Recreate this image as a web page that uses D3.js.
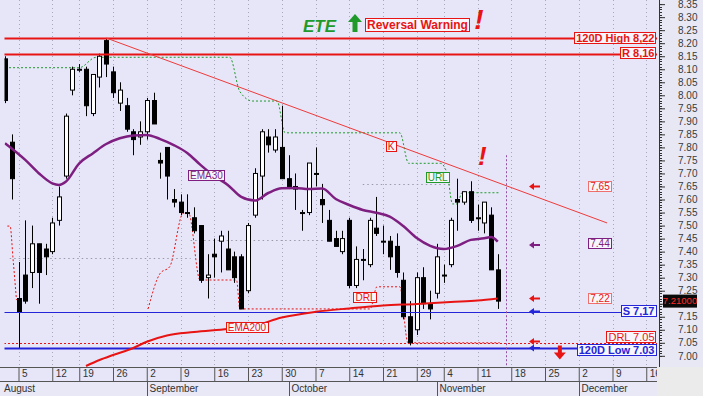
<!DOCTYPE html>
<html>
<head>
<meta charset="utf-8">
<script src="https://cdn.jsdelivr.net/npm/d3@7"></script>
<style>
  body { margin: 0; background: #fff; }
  svg { display: block; font-family: "Liberation Sans", Arial, sans-serif; }
</style>
</head>
<body>
<div id="chart"></div>
<script>
// ETE daily candles (Aug - Nov 2019) with EMA, support/resistance overlays

// Data
const holidays = ["2019-08-15", "2019-10-28"];

const open  = [8.14,7.82,7.22,7.31,7.32,7.43,7.41,7.40,7.52,7.69,8.02,8.10,8.10,7.93,8.07,8.21,8.09,7.97,7.96,7.86,
               7.84,7.86,7.98,7.75,7.80,7.60,7.59,7.55,7.53,7.50,7.30,7.39,7.44,7.41,7.38,7.38,7.25,7.54,7.69,7.84,
               7.79,7.80,7.68,7.65,7.55,7.55,7.70,7.60,7.52,7.45,7.40,7.52,7.27,7.37,7.35,7.49,7.44,7.44,7.42,7.29,
               7.15,7.10,7.30,7.20,7.24,7.31,7.35,7.60,7.59,7.63,7.53,7.51,7.54,7.33];
const high  = [8.15,7.85,7.36,7.52,7.50,7.43,7.43,7.53,7.65,7.93,8.11,8.12,8.11,8.08,8.16,8.22,8.11,8.05,7.99,7.87,
               7.90,7.99,8.01,7.78,7.80,7.64,7.62,7.62,7.57,7.50,7.39,7.45,7.48,7.48,7.40,7.39,7.51,7.72,7.87,7.87,
               7.87,7.96,7.77,7.70,7.56,7.74,7.80,7.66,7.56,7.48,7.48,7.53,7.42,7.41,7.53,7.61,7.50,7.46,7.47,7.32,
               7.21,7.32,7.34,7.25,7.43,7.35,7.53,7.68,7.63,7.67,7.58,7.59,7.57,7.39];
const low   = [7.97,7.60,7.03,7.20,7.26,7.20,7.31,7.39,7.50,7.68,8.00,8.09,7.92,7.92,8.03,8.07,7.99,7.94,7.86,7.77,
               7.81,7.83,7.89,7.68,7.60,7.57,7.54,7.53,7.47,7.28,7.22,7.30,7.32,7.33,7.28,7.18,7.24,7.53,7.60,7.78,
               7.78,7.68,7.64,7.56,7.48,7.54,7.65,7.51,7.44,7.42,7.39,7.26,7.26,7.29,7.34,7.46,7.39,7.33,7.30,7.14,
               7.04,7.08,7.18,7.14,7.22,7.28,7.34,7.48,7.58,7.51,7.48,7.47,7.33,7.18];
const close = [7.98,7.68,7.17,7.21,7.43,7.32,7.38,7.51,7.61,7.92,8.10,8.10,7.96,8.08,8.15,8.12,8.01,8.02,7.87,7.83,
               7.86,7.98,7.89,7.74,7.69,7.59,7.55,7.55,7.48,7.29,7.31,7.38,7.46,7.33,7.30,7.18,7.50,7.70,7.86,7.81,
               7.84,7.68,7.65,7.64,7.55,7.74,7.70,7.58,7.44,7.42,7.45,7.27,7.37,7.37,7.52,7.47,7.44,7.38,7.32,7.15,
               7.05,7.30,7.20,7.18,7.38,7.31,7.52,7.59,7.63,7.52,7.53,7.59,7.33,7.21];

// Overlays: [trading-day index, price]
const ema30 = [[0,7.816],[3,7.752],[5,7.701],[7,7.662],[8,7.656],[9,7.668],[11,7.739],[13,7.777],[15,7.813],
               [17,7.835],[19,7.846],[21,7.848],[23,7.832],[25,7.809],[27,7.779],[29,7.732],[31,7.69],[33,7.656],
               [35,7.61],[37,7.596],[39,7.625],[41,7.643],[43,7.644],[45,7.64],[47,7.642],[49,7.602],[51,7.579],
               [53,7.56],[55,7.549],[57,7.534],[59,7.498],[61,7.452],[63,7.422],[65,7.41],[67,7.422],[69,7.445],
               [71,7.451],[72,7.456],[73,7.438]];
const ema200 = [[12,6.961],[14,6.984],[16,7.003],[19,7.03],[21,7.054],[24,7.078],[28,7.091],[33,7.103],
                [37,7.116],[41,7.147],[46,7.169],[51,7.182],[56,7.193],[61,7.199],[66,7.207],[70,7.212],[73,7.22]];
const urlLine = [[0,8.106],[11,8.106],[13.5,8.146],[33.3,8.146],[34.8,8.014],[36.7,7.978],[40.3,7.978],
                 [41.5,7.856],[58.5,7.856],[59.8,7.739],[64.5,7.739],[65.5,7.70],[66.3,7.583],[67,7.583],
                 [67.7,7.626],[73.3,7.626]];
const drlLineA = [[0.35,7.498],[0.75,7.498],[1.2,7.37],[1.7,7.214]];
const drlLineB = [[21.2,7.18],[23,7.317],[24.4,7.342],[26.4,7.547],[27.2,7.547],[28.9,7.291],[34.3,7.291],
                  [34.8,7.18],[54.1,7.18],[55.1,7.265],[58.5,7.265],[59.7,7.05],[73.3,7.05]];
const greyLevels = [[0.7,27.5,7.374],[27.5,47.5,7.445],[53,66,7.658]];
const trend = [[15,8.22],[89.2,7.51]];

const levelValues = [8.22, 8.16, 7.17, 7.03, 7.05];
const levelLabels = ["120D High 8,22", "R 8,16", "S 7,17", "120D Low 7.03", "DRL 7.05"];
const markerValues = [7.65, 7.43, 7.22];
const markerLabels = ["7,65", "7.44", "7,22"];
const lastPrice = 7.21;

// Trading days (weekends and Greek market holidays skipped)
const fmtDay = d3.utcFormat("%Y-%m-%d");
const days = d3.utcDay.range(new Date(Date.UTC(2019, 7, 1)), new Date(Date.UTC(2019, 11, 19)))
  .filter(d => d.getUTCDay() % 6 !== 0 && !holidays.includes(fmtDay(d)));

// Colors
const bg = "#e6e6f8";
const red = "#e81414";
const blue = "#2424d8";
const purple = "#7e1e80";
const green = "#1f9a2a";

// Dimensions
const width = 717, height = 398,
      plotR = 657, plotB = 367, axisX = 659, panelR = 703;

const x = d3.scaleLinear()
    .domain([0, days.length - 1])
    .range([5, 5 + (days.length - 1) * 6.75]);

const y = d3.scaleLinear()
    .domain([7.03, 8.22])
    .range([348, 38]);

const svg = d3.select("#chart")
  .append("svg")
    .attr("width", width)
    .attr("height", height)
    .attr("viewBox", [0, 0, width, height]);

// Backgrounds
svg.append("rect").attr("width", width).attr("height", height).attr("fill", "#fff");
svg.append("rect").attr("x", 0).attr("y", 0).attr("width", plotR).attr("height", plotB).attr("fill", bg);
svg.append("rect").attr("x", plotR).attr("y", 0).attr("width", panelR - plotR).attr("height", plotB).attr("fill", "#e8e8f4");
svg.append("rect").attr("x", 0).attr("y", plotB).attr("width", plotR).attr("height", 14).attr("fill", bg);
svg.append("rect").attr("x", 0).attr("y", plotB + 14).attr("width", plotR).attr("height", 15).attr("fill", "#e8e8f6");
svg.append("rect").attr("x", plotR).attr("y", plotB).attr("width", panelR - plotR).attr("height", 29).attr("fill", "#ebebeb");

const defs = svg.append("defs");
defs.append("clipPath").attr("id", "plot")
  .append("rect").attr("x", 4.5).attr("y", 0).attr("width", plotR - 4.5).attr("height", plotB);
defs.append("clipPath").attr("id", "xaxis")
  .append("rect").attr("x", 0).attr("y", plotB).attr("width", plotR).attr("height", 30);

const plot = svg.append("g").attr("clip-path", "url(#plot)");

// Week and month positions
const weekIdx = d3.range(1, days.length)
  .filter(i => +d3.utcMonday.floor(days[i]) !== +d3.utcMonday.floor(days[i - 1]));
const monthIdx = d3.range(1, days.length)
  .filter(i => days[i].getUTCMonth() !== days[i - 1].getUTCMonth());

// Vertical dotted grid
plot.append("g")
    .attr("stroke", "#a8a8bc")
    .attr("stroke-dasharray", "1,3")
  .selectAll("line")
  .data(weekIdx)
  .join("line")
    .attr("x1", d => Math.round(x(d)) + 0.5)
    .attr("x2", d => Math.round(x(d)) + 0.5)
    .attr("y1", 0)
    .attr("y2", plotB);

// Grey dotted levels
plot.append("g")
    .attr("stroke", "#9a9aa8")
    .attr("stroke-dasharray", "1.5,3")
  .selectAll("line")
  .data(greyLevels)
  .join("line")
    .attr("x1", d => x(d[0]))
    .attr("x2", d => x(d[1]))
    .attr("y1", d => Math.round(y(d[2])) + 0.5)
    .attr("y2", d => Math.round(y(d[2])) + 0.5);

const line = d3.line()
    .x(d => x(d[0]))
    .y(d => y(d[1]))
    .curve(d3.curveMonotoneX);

// Step lines (URL resistance, DRL support)
plot.append("path").attr("d", line(urlLine))
    .attr("fill", "none").attr("stroke", green).attr("stroke-width", 1).attr("stroke-dasharray", "2,2");
[drlLineA, drlLineB].forEach(dl => plot.append("path").attr("d", line(dl))
    .attr("fill", "none").attr("stroke", red).attr("stroke-width", 1).attr("stroke-dasharray", "2,2"));

// Candles
const candles = d3.range(open.length);
plot.append("g")
    .attr("stroke", "#000")
  .selectAll("line")
  .data(candles)
  .join("line")
    .attr("x1", i => Math.round(x(i)) + 0.5)
    .attr("x2", i => Math.round(x(i)) + 0.5)
    .attr("y1", i => y(high[i]))
    .attr("y2", i => y(low[i]));

plot.append("g")
    .attr("stroke", "#000")
  .selectAll("rect")
  .data(candles)
  .join("rect")
    .attr("x", i => Math.round(x(i)) - 1.5)
    .attr("width", 4)
    .attr("y", i => y(Math.max(open[i], close[i])))
    .attr("height", i => Math.max(1, Math.abs(y(open[i]) - y(close[i]))))
    .attr("fill", i => close[i] >= open[i] ? "#fff" : "#000");

// Horizontal levels
const levelStyle = [
  {color: red, w: 2, dash: null},
  {color: red, w: 2, dash: null},
  {color: blue, w: 1, dash: null},
  {color: blue, w: 2, dash: null},
  {color: red, w: 1, dash: "2,2"}
];
plot.append("g")
  .selectAll("line")
  .data(levelValues)
  .join("line")
    .attr("x1", 0)
    .attr("x2", plotR)
    .attr("y1", d => Math.round(y(d)) + 0.5)
    .attr("y2", d => Math.round(y(d)) + 0.5)
    .attr("stroke", (d, i) => levelStyle[i].color)
    .attr("stroke-width", (d, i) => levelStyle[i].w)
    .attr("stroke-dasharray", (d, i) => levelStyle[i].dash);

// Trend line
plot.append("line")
    .attr("x1", x(trend[0][0])).attr("y1", y(trend[0][1]))
    .attr("x2", x(trend[1][0])).attr("y2", y(trend[1][1]))
    .attr("stroke", "#ee3a3a").attr("stroke-width", 1);

// Moving averages
plot.append("path").attr("d", line(ema200))
    .attr("fill", "none").attr("stroke", red).attr("stroke-width", 2);
plot.append("path").attr("d", line(ema30))
    .attr("fill", "none").attr("stroke", purple).attr("stroke-width", 2.5);

// Purple dotted marker after last bar
plot.append("line")
    .attr("x1", Math.round(x(74.2)) + 0.5).attr("x2", Math.round(x(74.2)) + 0.5)
    .attr("y1", y(7.77)).attr("y2", plotB)
    .attr("stroke", "#9050a0").attr("stroke-dasharray", "2,2");

// Boxed label helper
function boxLabel(g, text, px, py, color, opt = {}) {
  const t = g.append("text")
      .attr("x", px).attr("y", py).attr("dy", "0.35em")
      .attr("text-anchor", opt.anchor || "middle")
      .attr("font-size", opt.size || 10)
      .attr("font-weight", opt.bold ? "bold" : "normal")
      .attr("font-style", opt.italic ? "italic" : "normal")
      .attr("fill", color)
      .text(text);
  const b = t.node().getBBox();
  g.insert("rect", () => t.node())
      .attr("x", Math.round(b.x) - 1.5).attr("y", Math.round(b.y) + 0.5)
      .attr("width", Math.round(b.width) + 3).attr("height", Math.round(b.height) - 1)
      .attr("fill", opt.fill || "#f6f6fc").attr("stroke", opt.stroke || color).attr("stroke-width", 1);
}

const notes = svg.append("g");

// Inline labels
boxLabel(notes, "EMA30", x(29.85), y(7.694), purple);
boxLabel(notes, "EMA200", x(35.85), y(7.11), red);
boxLabel(notes, "K", x(57.2), y(7.803), red);
boxLabel(notes, "URL", x(64.1), y(7.684), green);
boxLabel(notes, "DRL", x(53.4), y(7.222), red);

// Right edge level labels
const levelBold = [true, true, true, true, false];
levelValues.forEach((v, i) => boxLabel(notes, levelLabels[i], plotR - 2.5, y(v) + (i === 4 ? -5.5 : i === 3 ? 2.5 : 0),
  levelStyle[i].color, {anchor: "end", size: 11, bold: levelBold[i]}));

// Right markers with arrows
const markerColor = [red, purple, red];
markerValues.forEach((v, i) => boxLabel(notes, markerLabels[i], 600, y(v), markerColor[i], {stroke: i === 1 ? purple : "#f07070"}));

function leftArrow(g, px, py, color) {
  g.append("path")
      .attr("d", `M${px},${py} l5,-3.5 v2.5 h6 v2 h-6 v2.5 z`)
      .attr("fill", color);
}
[[7.65, red], [7.425, purple], [7.22, red], [7.17, blue], [7.055, red], [7.03, blue]]
  .forEach(([v, c]) => leftArrow(notes, 529, y(v), c));

// Red down arrow
notes.append("path")
    .attr("d", `M${x(82.2) - 2},${y(7.04)} h4 v7 h4 l-6,7 l-6,-7 h4 z`)
    .attr("fill", red);

// Exclamation by trend line
notes.append("text")
    .attr("x", x(70.7)).attr("y", y(7.733))
    .attr("text-anchor", "middle")
    .attr("font-size", 26).attr("font-weight", "bold").attr("font-style", "italic")
    .attr("fill", red)
    .text("!");

// Header
notes.append("text")
    .attr("x", 303).attr("y", 32)
    .attr("font-size", 17).attr("font-weight", "bold").attr("font-style", "italic")
    .attr("fill", green)
    .text("ETE");
notes.append("path")
    .attr("d", "M352.5,32 v-10 h-4.5 l7,-8 l7,8 h-4.5 v10 z")
    .attr("fill", green);
boxLabel(notes, "Reversal Warning", 417.5, 25, red, {size: 12, bold: true});
notes.append("text")
    .attr("x", 479).attr("y", 29)
    .attr("text-anchor", "middle")
    .attr("font-size", 28).attr("font-weight", "bold").attr("font-style", "italic")
    .attr("fill", red)
    .text("!");

// Right price axis
const yMajor = d3.range(700, 836, 5).map(d => d / 100);
const yMinor = d3.range(700, 836).map(d => d / 100);

svg.append("g")
    .attr("stroke", "#333")
  .selectAll("line")
  .data(yMinor)
  .join("line")
    .attr("x1", axisX).attr("x2", axisX + 3)
    .attr("y1", d => Math.round(y(d)) + 0.5)
    .attr("y2", d => Math.round(y(d)) + 0.5);

// The 7.20 label sits under the last price tag, as in the original
svg.append("g")
    .attr("transform", `translate(${axisX},0)`)
    .call(d3.axisRight(y).tickValues(yMajor).tickSize(6).tickPadding(13)
            .tickFormat(d => d === 7.2 ? "" : d3.format(".2f")(d)))
    .call(g => g.select(".domain").attr("d", `M0.5,0V${plotB}`).attr("stroke", "#333"))
    .call(g => g.selectAll(".tick line").attr("stroke", "#333"))
    .call(g => g.selectAll(".tick text").attr("fill", "#3a3a3a").attr("font-size", 10)
                 .attr("font-family", "Liberation Sans, Arial, sans-serif"));

// Last price tag
svg.append("rect")
    .attr("x", 663).attr("y", y(lastPrice) - 6.5)
    .attr("width", 34).attr("height", 13)
    .attr("fill", "#0a0a0a");
svg.append("text")
    .attr("x", 680).attr("y", y(lastPrice)).attr("dy", "0.35em")
    .attr("text-anchor", "middle")
    .attr("font-size", 9.5)
    .attr("fill", "#ff2a2a")
    .text(lastPrice.toFixed(5));

// Bottom date axis
const xAxis = svg.append("g").attr("clip-path", "url(#xaxis)");

xAxis.append("g")
    .attr("transform", `translate(0,${plotB})`)
    .call(d3.axisBottom(x).tickValues(weekIdx).tickFormat(i => days[i].getUTCDate()).tickSize(14).tickSizeOuter(0))
    .call(g => g.select(".domain").remove())
    .call(g => g.selectAll(".tick line").attr("stroke", "#555"))
    .call(g => g.selectAll(".tick text")
        .attr("text-anchor", "start").attr("x", 3).attr("y", 2.5).attr("dy", "0.71em")
        .attr("fill", "#333").attr("font-size", 10)
        .attr("font-family", "Liberation Sans, Arial, sans-serif"));

xAxis.append("g")
    .attr("stroke", "#555")
  .selectAll("line")
  .data(monthIdx)
  .join("line")
    .attr("x1", d => Math.round(x(d)) + 0.5)
    .attr("x2", d => Math.round(x(d)) + 0.5)
    .attr("y1", plotB + 14)
    .attr("y2", plotB + 29);

xAxis.append("g")
    .attr("font-size", 10)
    .attr("fill", "#333")
  .selectAll("text")
  .data([0, ...monthIdx])
  .join("text")
    .attr("x", d => d === 0 ? 4 : Math.round(x(d)) + 2.5)
    .attr("y", plotB + 25)
    .text(d => d3.utcFormat("%B")(days[d]));

svg.append("line")
    .attr("x1", 0).attr("x2", plotR).attr("y1", plotB + 0.5).attr("y2", plotB + 0.5)
    .attr("stroke", "#555");
svg.append("line")
    .attr("x1", 0).attr("x2", plotR).attr("y1", plotB + 14.5).attr("y2", plotB + 14.5)
    .attr("stroke", "#555");
</script>
</body>
</html>
